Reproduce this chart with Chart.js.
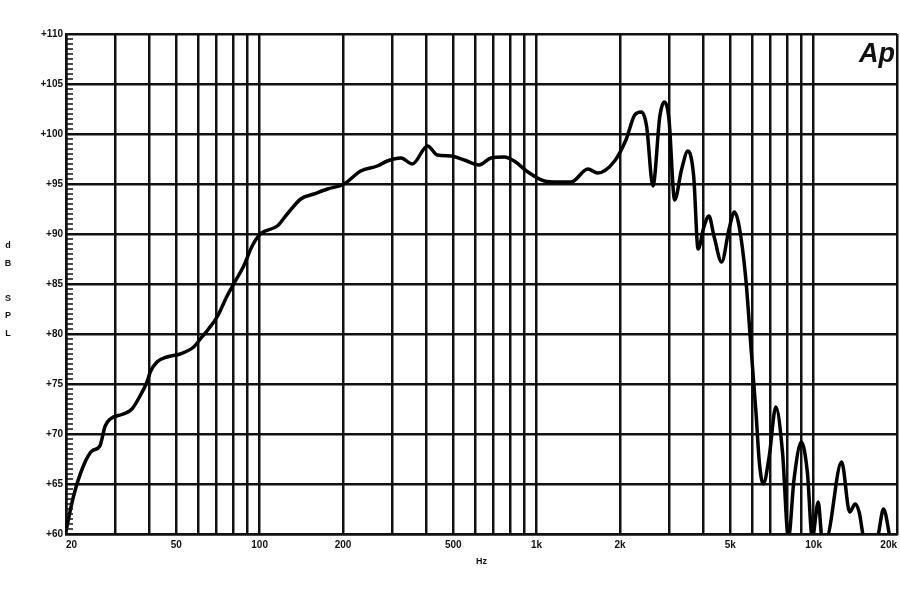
<!DOCTYPE html>
<html>
<head>
<meta charset="utf-8">
<script src="https://cdn.jsdelivr.net/npm/chart.js@4"></script>
<style>
  body { margin: 0; background: #fff; }
  #wrap { width: 900px; height: 600px; }
</style>
</head>
<body>
<div id="wrap"><canvas id="spl"></canvas></div>
<script>
// frequency response
const freqHz = [20, 21.3, 23.1, 24.8, 26.5, 27.7, 28.9, 32.2, 34.6, 37, 39.2, 40.3, 42.6, 46.3, 51.7, 57.8, 61.1, 65.4, 70.2, 76.3, 80.6, 87.6, 94, 100.6, 115.8, 125.8, 140.8, 157, 175.8, 201.7, 231.7, 266, 289, 324, 356, 404, 438, 490, 548, 620, 684, 764, 830, 930, 1066, 1192, 1332, 1532, 1662, 1912, 2108, 2260, 2390, 2494, 2630, 2786, 2890, 3004, 3150, 3340, 3516, 3690, 3828, 4016, 4188, 4368, 4656, 4952, 5176, 5382, 5692, 5936, 6192, 6368, 6580, 6916, 7306, 7720, 8112, 8500, 9028, 9492, 9890, 10392, 10732, 11100, 12620, 13500, 14130, 14600, 15240, 16920, 17880, 18880];
const splDb = [60.3, 63.8, 66.8, 68.3, 68.8, 70.8, 71.5, 72.0, 72.5, 73.8, 75.2, 76.2, 77.2, 77.7, 78.0, 78.7, 79.5, 80.5, 81.7, 83.8, 85.0, 86.8, 88.8, 90.0, 90.8, 92.0, 93.5, 94.0, 94.5, 95.0, 96.3, 96.8, 97.3, 97.6, 97.0, 98.8, 97.9, 97.8, 97.4, 96.9, 97.6, 97.7, 97.3, 96.2, 95.3, 95.2, 95.2, 96.5, 96.1, 97.3, 99.5, 101.9, 102.2, 100.8, 94.8, 101.8, 103.2, 101.5, 93.4, 96.5, 98.3, 95.8, 88.5, 90.7, 91.8, 89.8, 87.2, 90.5, 92.2, 90.8, 85.5, 78.8, 72.2, 67.2, 65.0, 67.8, 72.7, 68.2, 59.6, 65.5, 69.2, 66.2, 59.6, 63.2, 59.6, 59.6, 67.2, 62.2, 63.0, 62.2, 59.6, 59.6, 62.5, 59.6];

// grid lines on the x axis, labels only on some of them
const xTickValues = [20, 30, 40, 50, 60, 70, 80, 90, 100, 200, 300, 400, 500, 600, 700, 800, 900, 1000, 2000, 3000, 4000, 5000, 6000, 7000, 8000, 9000, 10000, 20000];
const xTickLabels = ['20', '', '', '50', '', '', '', '', '100', '200', '', '', '500', '', '', '', '', '1k', '2k', '', '', '5k', '', '', '', '', '10k', '20k'];
const yAxisLetters = ['d', 'B', '', 'S', 'P', 'L'];

const tickFont = { family: 'Liberation Sans', size: 10, weight: 'bold' };

const extras = {
  id: 'extras',
  afterDraw(chart) {
    const { ctx, chartArea, scales: { y } } = chart;
    ctx.save();
    // small ticks every half dB along the left edge
    ctx.strokeStyle = '#111';
    ctx.lineWidth = 1.5;
    for (let v = 60; v <= 110; v += 0.5) {
      const py = y.getPixelForValue(v);
      ctx.beginPath();
      ctx.moveTo(chartArea.left, py);
      ctx.lineTo(chartArea.left + 7, py);
      ctx.stroke();
    }
    ctx.fillStyle = '#111';
    ctx.textAlign = 'center';
    ctx.textBaseline = 'middle';
    // stacked "dB SPL"
    ctx.font = 'bold 9px "Liberation Sans"';
    yAxisLetters.forEach((ch, i) => {
      if (ch) ctx.fillText(ch, 8, 246 + i * 17.5);
    });
    // x axis unit
    ctx.fillText('Hz', (chartArea.left + chartArea.right) / 2, 562);
    // logo
    ctx.font = 'italic bold 27px "Liberation Sans"';
    ctx.textAlign = 'right';
    ctx.textBaseline = 'alphabetic';
    ctx.fillText('Ap', chartArea.right - 2, 62);
    ctx.restore();
  }
};

new Chart(document.getElementById('spl'), {
  type: 'line',
  data: {
    datasets: [{
      data: freqHz.map((f, i) => ({ x: f, y: splDb[i] })),
      borderColor: '#000',
      borderWidth: 3.5,
      pointRadius: 0,
      cubicInterpolationMode: 'monotone',
      fill: false
    }]
  },
  options: {
    responsive: true,
    maintainAspectRatio: false,
    animation: false,
    layout: { padding: { top: 34, right: 3, left: 0, bottom: 0 } },
    plugins: { legend: { display: false }, tooltip: { enabled: false } },
    scales: {
      x: {
        type: 'logarithmic',
        min: 20,
        max: 20000,
        afterBuildTicks: s => { s.ticks = xTickValues.map(v => ({ value: v })); },
        afterFit: s => { s.height = 66; s.paddingLeft = 0; s.paddingRight = 0; },
        ticks: {
          autoSkip: false,
          maxRotation: 0,
          align: 'inner',
          padding: 5,
          color: '#111',
          font: tickFont,
          callback: (v, i) => xTickLabels[i]
        },
        grid: { color: '#111', lineWidth: 2.5, drawTicks: false },
        border: { color: '#111', width: 2.5 }
      },
      y: {
        min: 60,
        max: 110,
        afterFit: s => { s.width = 66; s.paddingTop = 0; s.paddingBottom = 0; },
        ticks: {
          stepSize: 5,
          padding: 3,
          color: '#111',
          font: tickFont,
          callback: v => '+' + v
        },
        grid: { color: '#111', lineWidth: 2.5, drawTicks: false },
        border: { color: '#111', width: 2.5 }
      }
    }
  },
  plugins: [extras]
});
</script>
</body>
</html>
